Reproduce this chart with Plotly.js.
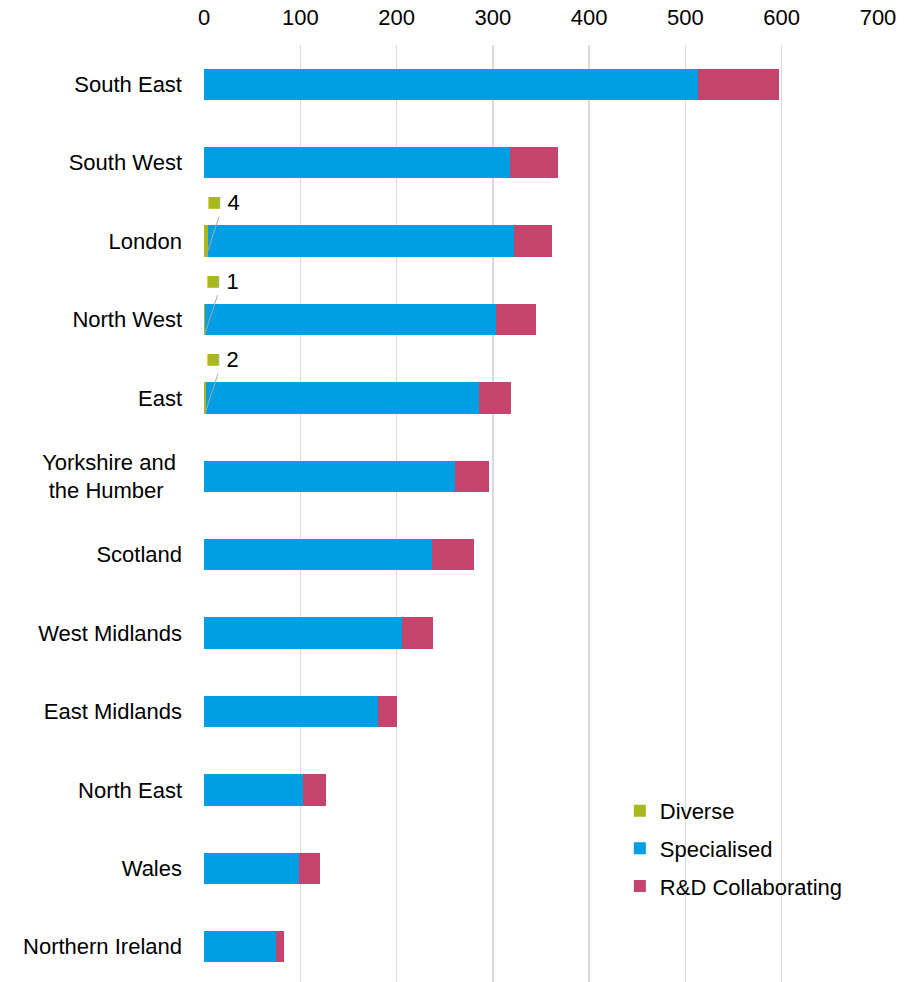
<!DOCTYPE html>
<html>
<head>
<meta charset="utf-8">
<script src="https://cdn.plot.ly/plotly-3.0.1.min.js"></script>
<style>html,body{margin:0;padding:0;background:#fff;}#chart{width:914px;height:982px;}</style>
</head>
<body>
<div id="chart"></div>
<script>
const regions = ["South East","South West","London","North West","East","Yorkshire and\u00a0<br>the Humber\u00a0\u00a0\u00a0","Scotland","West Midlands","East Midlands","North East","Wales","Northern Ireland"];
const diverse = [0,0,4,1,2,0,0,0,0,0,0,0];
const specialised = [513,318,318,302,284,261,237,206,181,103,99,75];
const rdCollaborating = [84,50,39,42,33,35,43,32,19,24,21,8];
const xTicks = [0,100,200,300,400,500,600,700];

const colors = {diverse:"#A9B81F", specialised:"#009FE3", rd:"#C5446E"};
const font = {family:"Arial, 'Liberation Sans', sans-serif", size:22, color:"#000"};

const traces = [
  {type:"bar", orientation:"h", name:"Diverse", y:regions, x:diverse, marker:{color:colors.diverse}, legendgroup:"a", hoverinfo:"x+name"},
  {type:"bar", orientation:"h", name:"Specialised", y:regions, x:specialised, marker:{color:colors.specialised}, legendgroup:"b", hoverinfo:"x+name"},
  {type:"bar", orientation:"h", name:"R&D Collaborating", y:regions, x:rdCollaborating, marker:{color:colors.rd}, legendgroup:"c", hoverinfo:"x+name"}
];

const annotations = [];
diverse.forEach((v,i)=>{
  if(v>0){
    annotations.push({
      x:v/2, y:i+0.2, xref:"x", yref:"y",
      text:'<span style="color:'+colors.diverse+';font-size:24px">\u25A0</span> '+v,
      showarrow:true, arrowhead:0, arrowwidth:1, arrowcolor:"#a6a6a6",
      ax:18, ay:-55, font:font
    });
  }
});

const layout = {
  width:914, height:982,
  margin:{l:204, r:36, t:45, b:0},
  paper_bgcolor:"#fff", plot_bgcolor:"#fff",
  font:font,
  barmode:"stack", bargap:0.6,
  showlegend:true,
  legend:{x:0.617, xanchor:"left", y:0.205, yanchor:"top", traceorder:"grouped", tracegroupgap:6, font:font, bgcolor:"rgba(255,255,255,0)"},
  xaxis:{side:"top", range:[0,700], tickvals:xTicks, ticktext:xTicks.map(String), showgrid:true, gridcolor:"#d9d9d9", gridwidth:1.3, zeroline:false, showline:false, ticks:"", ticklabelstandoff:15, tickfont:font, fixedrange:true},
  yaxis:{type:"category", categoryorder:"array", categoryarray:regions, range:[11.45,-0.5], showgrid:false, zeroline:false, showline:false, ticks:"", ticklabelstandoff:21, tickfont:font, fixedrange:true},
  annotations:annotations
};

Plotly.newPlot("chart", traces, layout, {displayModeBar:false, staticPlot:true});
</script>
</body>
</html>
